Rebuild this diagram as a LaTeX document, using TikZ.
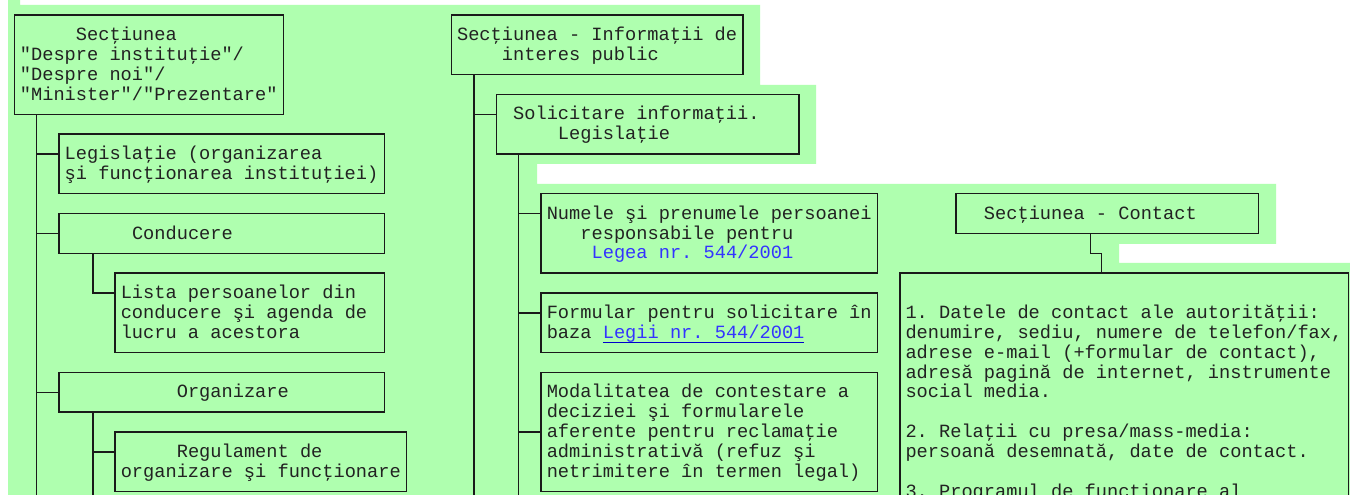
\documentclass[tikz,border=0pt]{standalone}
\usepackage{fontspec}
\setmonofont{Liberation Mono}
\usetikzlibrary{fit}
\definecolor{bggreen}{HTML}{AFFFAF}
\definecolor{ink}{HTML}{1A1A1A}
\definecolor{txtc}{HTML}{222222}
\definecolor{linkblue}{HTML}{3333FF}
\definecolor{ulblue}{HTML}{0000CC}
\newcommand{\T}[4]{\node[txt] (#1) at ({#2-0.5},{#3+0.282}) {#4};}
\newcommand{\TL}[4]{\node[txt,text=linkblue] (#1) at ({#2-0.5},{#3+0.282}) {#4};}
\begin{document}
\begin{tikzpicture}[x=0.75pt,y=-0.75pt]
\useasboundingbox (0,0) rectangle (1350,495);
\clip (0,0) rectangle (1350,495);
\fill[white] (0,0) rectangle (1350,495);
\fill[bggreen] (8,0) -- (20,0) -- (20,5) -- (760,5) -- (760,85) -- (816,85) -- (816,164) -- (537,164) -- (537,184) -- (1276,184) -- (1276,244) -- (1119,244) -- (1119,263) -- (1350,263) -- (1350,495) -- (8,495) -- cycle;
\begin{scope}[xshift=10.725pt, yshift=-11.25pt, x=8.4075pt, y=-14.895pt,
  box/.style={draw=ink, line width=1.1pt, inner sep=0pt, outer sep=0pt},
  conn/.style={draw=ink, line width=1.1pt},
  txt/.style={anchor=base west, inner sep=0pt, outer sep=0pt, font=\ttfamily\fontsize{14pt}{15pt}\selectfont, text=txtc},
  link/.style={draw=ulblue, line width=0.8pt}]
% boxes
\node[box, fit={(0,0) (24,5)}] (A) {};
\node[box, fit={(4,6) (33,9)}] (B) {};
\node[box, fit={(4,10) (33,12)}] (C) {};
\node[box, fit={(9,13) (33,17)}] (D) {};
\node[box, fit={(4,18) (33,20)}] (E) {};
\node[box, fit={(9,21) (35,24)}] (F) {};
\node[box, fit={(39,0) (65,3)}] (G) {};
\node[box, fit={(43,4) (70,7)}] (H) {};
\node[box, fit={(47,9) (77,13)}] (I) {};
\node[box, fit={(47,14) (77,17)}] (J) {};
\node[box, fit={(47,18) (77,24)}] (K) {};
\node[box, fit={(84,9) (111,11)}] (L) {};
\node[box, fit={(79,13) (119,30)}] (M) {};
% junction coordinates
\coordinate (jB) at (2,7);
\coordinate (jC) at (2,11);
\coordinate (jE) at (2,19);
\coordinate (endA) at (2,26);
\coordinate (jD) at (7,14);
\coordinate (sC) at (7,12);
\coordinate (jF) at (7,22);
\coordinate (endE) at (7,26);
\coordinate (jH) at (41,5);
\coordinate (endG) at (41,26);
\coordinate (jI) at (45,10);
\coordinate (jJ) at (45,15);
\coordinate (jK) at (45,21);
\coordinate (endH) at (45,26);
\coordinate (bendL) at (96,12);
\coordinate (bendM) at (97,12);
% connectors
\draw[conn] (A.south -| jB) -- (endA);
\draw[conn] (jB) -- (jB -| B.west);
\draw[conn] (jC) -- (jC -| C.west);
\draw[conn] (jE) -- (jE -| E.west);
\draw[conn] (C.south -| sC) -- (jD) -- (jD -| D.west);
\draw[conn] (E.south -| jF) -- (endE);
\draw[conn] (jF) -- (jF -| F.west);
\draw[conn] (G.south -| jH) -- (endG);
\draw[conn] (jH) -- (jH -| H.west);
\draw[conn] (H.south -| jI) -- (endH);
\draw[conn] (jI) -- (jI -| I.west);
\draw[conn] (jJ) -- (jJ -| J.west);
\draw[conn] (jK) -- (jK -| K.west);
\draw[conn] (L.south -| bendL) -- (bendL) -- (bendM) -- (M.north -| bendM);
% texts
\T{a1}{6}{1}{Secţiunea}
\T{a2}{1}{2}{"Despre instituţie"/}
\T{a3}{1}{3}{"Despre noi"/}
\T{a4}{1}{4}{"Minister"/"Prezentare"}
\T{b1}{5}{7}{Legislaţie (organizarea}
\T{b2}{5}{8}{şi funcţionarea instituţiei)}
\T{c1}{11}{11}{Conducere}
\T{d1}{10}{14}{Lista persoanelor din}
\T{d2}{10}{15}{conducere şi agenda de}
\T{d3}{10}{16}{lucru a acestora}
\T{e1}{15}{19}{Organizare}
\T{f1}{15}{22}{Regulament de}
\T{f2}{10}{23}{organizare şi funcţionare}
\T{g1}{40}{1}{Secţiunea - Informaţii de}
\T{g2}{44}{2}{interes public}
\T{h1}{45}{5}{Solicitare informaţii.}
\T{h2}{49}{6}{Legislaţie}
\T{i1}{48}{10}{Numele şi prenumele persoanei}
\T{i2}{51}{11}{responsabile pentru}
\TL{i3}{52}{12}{Legea nr. 544/2001}
\T{j1}{48}{15}{Formular pentru solicitare în}
\T{j2}{48}{16}{baza}
\TL{j3}{53}{16}{Legii nr. 544/2001}
\draw[link] ([yshift=-2.8pt]j3.base west) -- ([yshift=-2.8pt]j3.base east);
\T{k1}{48}{19}{Modalitatea de contestare a}
\T{k2}{48}{20}{deciziei şi formularele}
\T{k3}{48}{21}{aferente pentru reclamaţie}
\T{k4}{48}{22}{administrativă (refuz şi}
\T{k5}{48}{23}{netrimitere în termen legal)}
\T{l1}{87}{10}{Secţiunea - Contact}
\T{m1}{80}{15}{1. Datele de contact ale autorităţii:}
\T{m2}{80}{16}{denumire, sediu, numere de telefon/fax,}
\T{m3}{80}{17}{adrese e-mail (+formular de contact),}
\T{m4}{80}{18}{adresă pagină de internet, instrumente}
\T{m5}{80}{19}{social media.}
\T{m6}{80}{21}{2. Relaţii cu presa/mass-media:}
\T{m7}{80}{22}{persoană desemnată, date de contact.}
\T{m8}{80}{24}{3. Programul de funcţionare al}
\end{scope}
\end{tikzpicture}
\end{document}
